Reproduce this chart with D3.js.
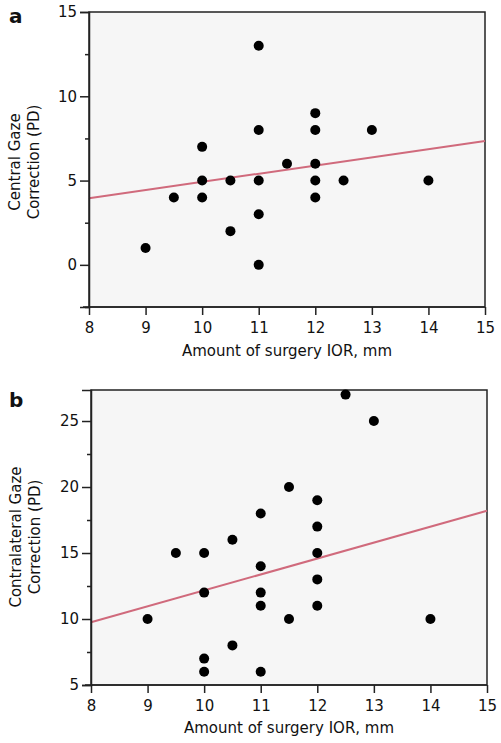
<!DOCTYPE html>
<html><head><meta charset="utf-8">
<script src="https://cdn.jsdelivr.net/npm/d3@7"></script>
<style>body{margin:0;background:#fff}svg{display:block}text{font-family:"DejaVu Sans",Arial,sans-serif}</style>
</head><body>
<svg id="c" width="501" height="743"></svg>
<script>
const xTicks = [8,9,10,11,12,13,14,15];
const aX = [9,9.5,10,10,10,10.5,10.5,11,11,11,11,11,11.5,12,12,12,12,12,12.5,13,14];
const aY = [1,4,7,5,4,5,2,13,8,5,3,0,6,9,8,6,5,4,5,8,5];
const aFitX = [8,15];
const aFitY = [3.95,7.35];
const aYTicks = [0,5,10,15];
const aYMinor = [-2.5,2.5,7.5,12.5];
const bX = [9,9.5,10,10,10,10,10.5,10.5,11,11,11,11,11,11.5,11.5,12,12,12,12,12,12.5,13,14];
const bY = [10,15,15,12,7,6,16,8,18,14,12,11,6,20,10,19,17,15,13,11,27,25,10];
const bFitX = [8,15];
const bFitY = [9.75,18.2];
const bYTicks = [5,10,15,20,25];
const bYMinor = [7.5,12.5,17.5,22.5];

const svg = d3.select("#c");
const FS = 15;

function panel(o){
  const g = svg.append("g");
  const x = d3.scaleLinear().domain([8,15]).range([o.left,o.right]);
  const y = d3.scaleLinear().domain(o.yDom).range([o.bottom,o.top]);
  g.append("rect").attr("x",o.left).attr("y",o.top).attr("width",o.right-o.left).attr("height",o.bottom-o.top)
    .attr("fill","#f6f6f6").attr("stroke","#222").attr("stroke-width",1.5);
  g.append("line").attr("x1",x(o.fitX[0])).attr("y1",y(o.fitY[0])).attr("x2",x(o.fitX[1])).attr("y2",y(o.fitY[1]))
    .attr("stroke","#d06a7c").attr("stroke-width",2);
  g.selectAll("circle.p").data(o.xs.map((v,i)=>[v,o.ys[i]])).enter().append("circle")
    .attr("cx",d=>x(d[0])).attr("cy",d=>y(d[1])).attr("r",5).attr("fill","#000");
  const xa = g.append("g").attr("transform",`translate(0,${o.bottom})`)
    .call(d3.axisBottom(x).tickValues(xTicks).tickSize(8).tickPadding(7).tickFormat(d3.format("d")));
  xa.select(".domain").attr("d",`M${o.left-6},0H${o.right}`).attr("stroke","#222").attr("stroke-width",1.5);
  xa.selectAll(".tick line").attr("stroke","#222").attr("stroke-width",1.5);
  xa.selectAll("text").attr("font-size",FS).attr("fill","#111").attr("font-family","DejaVu Sans");
  const ya = g.append("g").attr("transform",`translate(${o.left},0)`)
    .call(d3.axisLeft(y).tickValues(o.yTicks).tickSize(9).tickPadding(3).tickFormat(d3.format("d")));
  ya.select(".domain").attr("stroke","#222").attr("stroke-width",1.5);
  ya.selectAll(".tick line").attr("stroke","#222").attr("stroke-width",1.5);
  ya.selectAll("text").attr("font-size",FS).attr("fill","#111").attr("font-family","DejaVu Sans");
  const ym = g.append("g").attr("transform",`translate(${o.left},0)`)
    .call(d3.axisLeft(y).tickValues(o.yMinor).tickSize(4).tickFormat(""));
  ym.select(".domain").remove();
  ym.selectAll(".tick line").attr("stroke","#222").attr("stroke-width",1.5);
  g.append("text").attr("x",(o.left+o.right)/2).attr("y",o.xTitleY).attr("text-anchor","middle")
    .attr("font-size",FS).attr("fill","#111").text("Amount of surgery IOR, mm");
  const yt = g.append("text").attr("transform",`translate(${o.yTitleX},${o.yTitleCy}) rotate(-90)`)
    .attr("text-anchor","middle").attr("font-size",FS).attr("fill","#111");
  yt.append("tspan").attr("x",0).attr("dy",0).text(o.yTitle[0]);
  yt.append("tspan").attr("x",0).attr("dy",19).text(o.yTitle[1]);
  g.append("text").attr("x",o.labX).attr("y",o.labY).attr("font-size",20).attr("font-weight","bold")
    .attr("font-family","Liberation Sans").attr("fill","#111").text(o.label);
}

panel({left:89,right:485,top:12,bottom:307,yDom:[-2.5,15],xs:aX,ys:aY,fitX:aFitX,fitY:aFitY,
  yTicks:aYTicks,yMinor:aYMinor,xTitleY:356,yTitleX:20,yTitleCy:162,yTitle:["Central Gaze","Correction (PD)"],
  label:"a",labX:9,labY:23});
panel({left:91,right:487,top:390,bottom:685,yDom:[5,27.35],xs:bX,ys:bY,fitX:bFitX,fitY:bFitY,
  yTicks:bYTicks,yMinor:bYMinor,xTitleY:733,yTitleX:21,yTitleCy:537,yTitle:["Contralateral Gaze","Correction (PD)"],
  label:"b",labX:9,labY:407});
</script>
</body></html>
